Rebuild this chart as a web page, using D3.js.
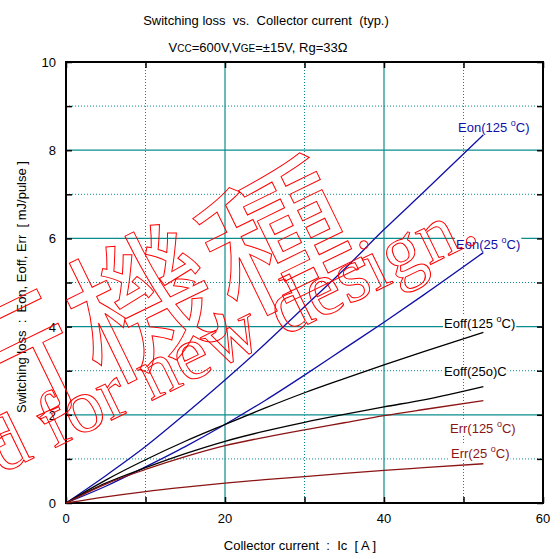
<!DOCTYPE html>
<html>
<head>
<meta charset="utf-8">
<script src="https://cdn.jsdelivr.net/npm/d3@7"></script>
<style>
  body { margin: 0; background: #fff; }
  text { white-space: pre; }
</style>
</head>
<body>
<div id="chart-area"></div>
<script>
// collector current [A]
const ic = [0, 5, 10, 15, 20, 25, 30, 35, 40, 45, 52.5];

// switching energies [mJ/pulse]
const eon125  = [0, 0.62, 1.28, 2.02, 2.79, 3.6, 4.45, 5.3, 6.2, 7.05, 8.35];
const eon25   = [0, 0.38, 0.82, 1.28, 1.78, 2.32, 2.9, 3.5, 4.1, 4.72, 5.68];
const eoff125 = [0, 0.52, 0.98, 1.4, 1.78, 2.15, 2.5, 2.82, 3.13, 3.43, 3.87];
const eoff25  = [0, 0.45, 0.8, 1.12, 1.4, 1.63, 1.83, 2.01, 2.18, 2.34, 2.64];
const err125  = [0, 0.43, 0.76, 1.05, 1.3, 1.49, 1.66, 1.82, 1.98, 2.12, 2.32];
const err25   = [0, 0.14, 0.26, 0.36, 0.45, 0.53, 0.6, 0.67, 0.74, 0.8, 0.89];

const seriesNames = ["Eon(125 °C)", "Eon(25 °C)", "Eoff(125 °C)", "Eoff(25o)C", "Err(125 °C)", "Err(25 °C)"];
const seriesValues = [eon125, eon25, eoff125, eoff25, err125, err25];
const seriesColors = ["#1010a8", "#1010a8", "#000000", "#000000", "#8b1414", "#8b1414"];

const xTicks = [0, 20, 40, 60];
const yTicks = [0, 2, 4, 6, 8, 10];

const W = 560, H = 559;
const svg = d3.select("#chart-area").append("svg")
    .attr("width", W)
    .attr("height", H)
    .attr("font-family", "Liberation Sans, Arial, sans-serif");

const x = d3.scaleLinear().domain([0, 60]).range([66, 543]);
const y = d3.scaleLinear().domain([0, 10]).range([503, 62]);

const teal = "#0a8c8c";

// minor grid (dotted)
svg.append("g").selectAll("line")
    .data([10, 30, 50])
    .enter().append("line")
    .attr("x1", d => x(d)).attr("x2", d => x(d))
    .attr("y1", y(0)).attr("y2", y(10))
    .attr("stroke", teal).attr("stroke-width", 1).attr("stroke-dasharray", "1,2");
svg.append("g").selectAll("line")
    .data([1, 3, 5, 7, 9])
    .enter().append("line")
    .attr("x1", x(0)).attr("x2", x(60))
    .attr("y1", d => y(d)).attr("y2", d => y(d))
    .attr("stroke", teal).attr("stroke-width", 1).attr("stroke-dasharray", "1,2");

// major grid (solid)
svg.append("g").selectAll("line")
    .data([20, 40])
    .enter().append("line")
    .attr("x1", d => x(d)).attr("x2", d => x(d))
    .attr("y1", y(0)).attr("y2", y(10))
    .attr("stroke", teal).attr("stroke-width", 1.2);
svg.append("g").selectAll("line")
    .data([2, 4, 6, 8])
    .enter().append("line")
    .attr("x1", x(0)).attr("x2", x(60))
    .attr("y1", d => y(d)).attr("y2", d => y(d))
    .attr("stroke", teal).attr("stroke-width", 1.2);

// axes with inward ticks
const tickFmt = d3.format("d");
const yAll = d3.range(0, 11);
const xAll = d3.range(0, 61, 10);

svg.append("g")
    .attr("transform", `translate(${x(0)},0)`)
    .call(d3.axisRight(y).tickValues(yAll).tickSize(6).tickFormat(""))
    .call(g => g.select(".domain").remove());
svg.append("g")
    .attr("transform", `translate(${x(60)},0)`)
    .call(d3.axisLeft(y).tickValues(yAll).tickSize(6).tickFormat(""))
    .call(g => g.select(".domain").remove());
svg.append("g")
    .attr("transform", `translate(0,${y(0)})`)
    .call(d3.axisTop(x).tickValues(xAll).tickSize(6).tickFormat(""))
    .call(g => g.select(".domain").remove());
svg.append("g")
    .attr("transform", `translate(0,${y(10)})`)
    .call(d3.axisBottom(x).tickValues(xAll).tickSize(6).tickFormat(""))
    .call(g => g.select(".domain").remove());
svg.selectAll(".tick line").attr("stroke", "#000").attr("stroke-width", 1.5);

// tick labels
svg.append("g").selectAll("text")
    .data(yTicks)
    .enter().append("text")
    .attr("x", 56)
    .attr("y", d => y(d) + 5)
    .attr("text-anchor", "end")
    .attr("font-size", 13)
    .text(tickFmt);
svg.append("g").selectAll("text")
    .data(xTicks)
    .enter().append("text")
    .attr("x", d => x(d))
    .attr("y", 523)
    .attr("text-anchor", "middle")
    .attr("font-size", 13)
    .text(tickFmt);

// frame
svg.append("rect")
    .attr("x", x(0)).attr("y", y(10))
    .attr("width", x(60) - x(0)).attr("height", y(0) - y(10))
    .attr("fill", "none").attr("stroke", "#000").attr("stroke-width", 2);

// curves
const line = d3.line()
    .x((d, i) => x(ic[i]))
    .y(d => y(d))
    .curve(d3.curveMonotoneX);

svg.append("g").selectAll("path")
    .data(seriesValues)
    .enter().append("path")
    .attr("d", line)
    .attr("fill", "none")
    .attr("stroke", (d, i) => seriesColors[i])
    .attr("stroke-width", 1.3);

// curve labels
const labelPos = [[458, 132], [456, 249], [444, 328], [444, 376], [450, 433], [451, 458]];
const labels = svg.append("g").selectAll("g")
    .data(seriesNames)
    .enter().append("g")
    .attr("transform", (d, i) => `translate(${labelPos[i][0]},${labelPos[i][1]})`);

labels.each(function(name, i) {
    const g = d3.select(this);
    const bg = g.append("rect").attr("fill", "#fff");
    const t = g.append("text")
        .attr("font-size", 13)
        .attr("fill", seriesColors[i]);
    if (name.includes("°")) {
        const parts = name.split("°");
        t.append("tspan").text(parts[0]);
        t.append("tspan").attr("font-size", 9).attr("dy", -6).text("o");
        t.append("tspan").attr("dy", 6).text(parts[1]);
    } else {
        t.text(name);
    }
    const bb = t.node().getBBox();
    bg.attr("x", bb.x - 1).attr("y", bb.y + 1)
      .attr("width", bb.width + 2).attr("height", bb.height - 2);
});

// titles
svg.append("text")
    .attr("x", 266).attr("y", 25)
    .attr("text-anchor", "middle")
    .attr("font-size", 13)
    .text("Switching loss  vs.  Collector current  (typ.)");

const sub = svg.append("text")
    .attr("x", 258).attr("y", 52)
    .attr("text-anchor", "middle")
    .attr("font-size", 13);
sub.append("tspan").text("V");
sub.append("tspan").attr("font-size", 10).text("CC");
sub.append("tspan").text("=600V,V");
sub.append("tspan").attr("font-size", 10).text("GE");
sub.append("tspan").text("=±15V, Rg=33Ω");

svg.append("text")
    .attr("x", 300).attr("y", 550)
    .attr("text-anchor", "middle")
    .attr("font-size", 13)
    .text("Collector current  :  Ic  [ A ]");

svg.append("text")
    .attr("transform", "translate(26,287) rotate(-90)")
    .attr("text-anchor", "middle")
    .attr("font-size", 13)
    .text("Switching loss  :  Eon, Eoff, Err  [ mJ/pulse ]");

// watermark
const wm = svg.append("g")
    .attr("transform", "translate(481,240) rotate(-26)")
    .attr("fill", "none")
    .attr("stroke", "#ff0000")
    .attr("stroke-width", 1);
wm.append("text")
    .attr("text-anchor", "end")
    .attr("font-family", "Liberation Serif, Times New Roman, serif")
    .attr("font-size", 77)
    .text("Not recommended for new design.");
wm.append("text")
    .attr("x", -106).attr("y", -37)
    .attr("text-anchor", "end")
    .attr("letter-spacing", 4)
    .attr("font-family", "Noto Sans CJK JP, sans-serif")
    .attr("font-size", 146)
    .text("移行機種");
</script>
</body>
</html>
